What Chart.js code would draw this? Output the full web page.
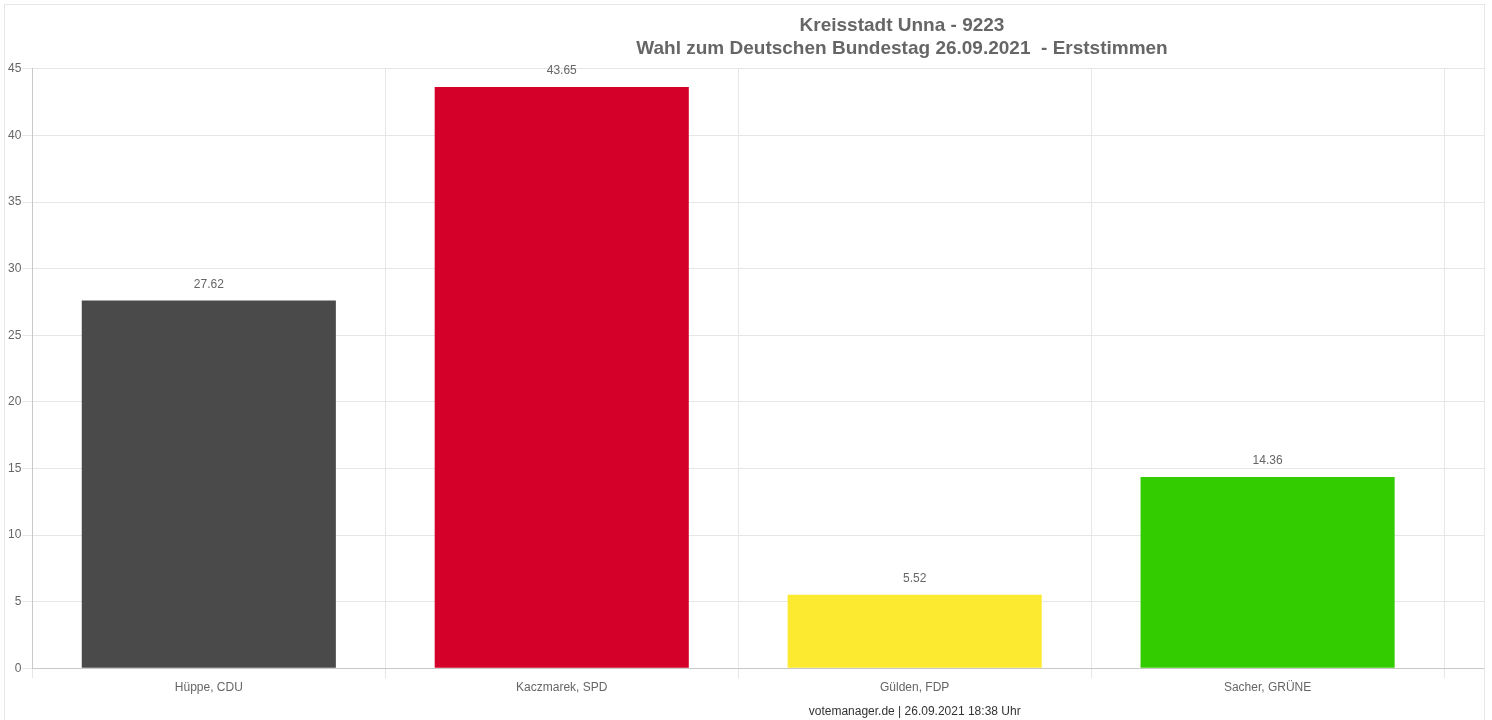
<!DOCTYPE html>
<html lang="de">
<head>
<meta charset="UTF-8">
<title>Kreisstadt Unna - 9223</title>
<script src="https://cdn.jsdelivr.net/npm/chart.js@4.4.0/dist/chart.umd.min.js"></script>
<style>
    body { margin: 0; background: #fff; }
    .card {
        position: absolute; left: 4px; top: 4px;
        width: 1479px; height: 760px;
        border: 1px solid #e4e6ea;
        overflow: hidden;
    }
    .card canvas { position: absolute; left: 0; top: 0; }
</style>
</head>
<body>
<div class="card">
    <canvas id="chart" width="1792" height="716"></canvas>
</div>

<script>
    // Erststimmen in Prozent (5. Spalte liegt ausserhalb des sichtbaren Bereichs)
    var kandidaten = ['Hüppe, CDU', 'Kaczmarek, SPD', 'Gülden, FDP', 'Sacher, GRÜNE', ''];
    var prozent = [27.62, 43.65, 5.52, 14.36, null];
    var farben = ['#4a4a4a', '#d50029', '#fbea2f', '#33cc00', '#999999'];
    var titelZeilen = ['Kreisstadt Unna - 9223', 'Wahl zum Deutschen Bundestag 26.09.2021  - Erststimmen'];
    var fussZeile = 'votemanager.de | 26.09.2021 18:38 Uhr';

    Chart.defaults.font.family = '"Liberation Sans", Arial, Helvetica, sans-serif';
    Chart.defaults.font.size = 12;
    Chart.defaults.color = '#666';

    // Werte ueber den Balken
    var werteLabels = {
        id: 'werteLabels',
        afterDatasetsDraw(chart) {
            var ctx = chart.ctx;
            var meta = chart.getDatasetMeta(0);
            ctx.save();
            ctx.font = '12px "Liberation Sans", Arial, sans-serif';
            ctx.fillStyle = '#666';
            ctx.textAlign = 'center';
            ctx.textBaseline = 'bottom';
            meta.data.forEach(function (bar, i) {
                var v = prozent[i];
                if (v === null) return;
                ctx.fillText(v.toFixed(2), bar.x, bar.y - 10);
            });
            ctx.restore();
        }
    };

    new Chart(document.getElementById('chart'), {
        type: 'bar',
        data: {
            labels: kandidaten,
            datasets: [{
                data: prozent,
                backgroundColor: farben,
                borderWidth: 0
            }]
        },
        options: {
            responsive: false,
            animation: false,
            layout: { padding: { left: 2, right: 0, top: 0, bottom: 0 } },
            plugins: {
                legend: { display: false },
                tooltip: { enabled: false },
                title: {
                    display: true,
                    text: titelZeilen,
                    color: '#666',
                    font: { size: 19, weight: 'bold', lineHeight: 1.21 },
                    padding: { top: 9.5, bottom: 8.5 }
                }
            },
            scales: {
                x: {
                    grid: { color: '#e6e6e6', tickLength: 10, offset: true },
                    border: { color: '#c8c8c8' },
                    ticks: { padding: 2 },
                    title: {
                        display: true,
                        text: fussZeile,
                        color: '#333',
                        padding: { top: 8, bottom: 2 }
                    }
                },
                y: {
                    min: 0,
                    max: 45,
                    grid: { color: '#e6e6e6', tickLength: 10 },
                    border: { color: '#c8c8c8' },
                    ticks: { stepSize: 5, padding: 1 }
                }
            }
        },
        plugins: [werteLabels]
    });
</script>
</body>
</html>
